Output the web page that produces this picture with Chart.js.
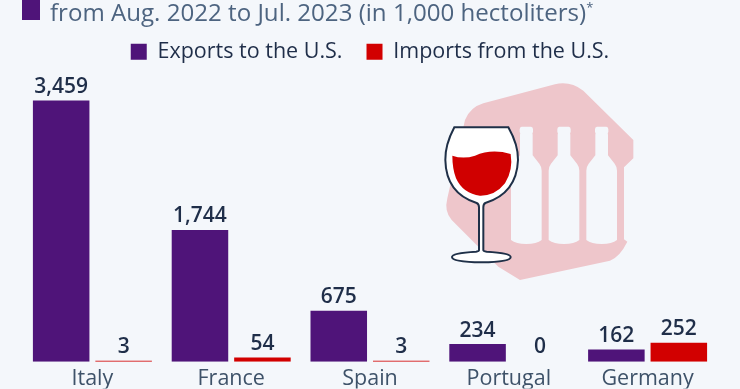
<!DOCTYPE html>
<html>
<head>
<meta charset="utf-8">
<script src="https://cdn.jsdelivr.net/npm/chart.js@4"></script>
<style>
    html, body { margin: 0; padding: 0; background: #f4f7fb; overflow: hidden; }
    #wrap { position: relative; width: 740px; height: 389px; overflow: hidden; }
    #chart { position: absolute; left: 0; top: 0; }
    #marker { position: absolute; left: 22px; top: 0; width: 18px; height: 20px; background: #4f1479; }
    #title { position: absolute; left: 50px; top: -5px; font: 24.1px "Open Sans", sans-serif; color: #4d6480; white-space: nowrap; }
    #title sup { font-size: 13px; line-height: 0; }
    #icon { position: absolute; left: 420px; top: 70px; }
</style>
</head>
<body>
<div id="wrap">
    <canvas id="chart" width="740" height="389"></canvas>
    <div id="marker"></div>
    <div id="title">from Aug. 2022 to Jul. 2023 (in 1,000 hectoliters)<sup>*</sup></div>
    <svg id="icon" width="240" height="210" viewBox="0 0 720 630">
        <path fill="#eec6cb" d="M190 100 L405 43 Q450 32 490 62 L640 210 L640 265 L612 292 L612 508 L622 515 Q600 560 570 572 L300 630 L235 590 L95 450 Q72 425 82 385 L135 150 Q150 112 190 100 Z"/>
        <g fill="#f4f7fb">
            <path id="bottle" d="M305 170 H333 Q339 170 339 178 V186 Q336 190 338 194 V256 L358 281 Q365 290 365 302 V510 Q350 522 319 522 Q288 522 273 510 V302 Q273 290 280 281 L300 256 V194 Q302 190 299 186 V178 Q299 170 305 170 Z"/>
            <use href="#bottle" x="113"/>
            <use href="#bottle" x="226"/>
        </g>
        <path fill="#fff" stroke="#1f3048" stroke-width="6" d="M103 172 H265 Q295 225 294 270 Q290 370 196 399 Q190 402 190 412 V541 Q190 544 200 545 Q272 549 272 561 Q272 576 185 577 Q96 576 96 561 Q96 549 168 545 Q177 544 177 541 V412 Q177 402 170 399 Q78 370 76 270 Q75 225 103 172 Z"/>
        <path fill="#d00000" d="M97 257 Q130 268 165 257 Q215 235 272 252 Q280 300 255 340 Q225 378 180 377 Q130 372 108 325 Q97 295 97 257 Z"/>
    </svg>
</div>
<script>
const countries = ['Italy', 'France', 'Spain', 'Portugal', 'Germany'];
const exportsToUs = [3459, 1744, 675, 234, 162];
const importsFromUs = [3, 54, 3, 0, 252];

const yMax = 3829;

// prints the number above each bar
const valueLabels = {
    id: 'valueLabels',
    afterDatasetsDraw(chart) {
        const ctx = chart.ctx;
        ctx.save();
        ctx.font = '600 21px "Open Sans"';
        ctx.fillStyle = '#1f2e49';
        ctx.textAlign = 'center';
        ctx.textBaseline = 'bottom';
        chart.data.datasets.forEach((ds, i) => {
            chart.getDatasetMeta(i).data.forEach((bar, j) => {
                ctx.fillText(ds.data[j].toLocaleString('en-US'), bar.x, bar.y - 3);
            });
        });
        ctx.restore();
    }
};

new Chart(document.getElementById('chart'), {
    type: 'bar',
    data: {
        labels: countries,
        datasets: [
            { label: 'Exports to the U.S.', data: exportsToUs, backgroundColor: '#4f1479' },
            {
                label: 'Imports from the U.S.',
                data: importsFromUs,
                // tiny values still show as a hairline, a zero shows nothing
                minBarLength: 1,
                backgroundColor: c => c.raw === 0 ? 'transparent' : '#d20000',
            },
        ]
    },
    options: {
        responsive: false,
        animation: false,
        categoryPercentage: 0.9,
        barPercentage: 0.905,
        layout: { padding: { left: 23, right: 23, top: 17, bottom: 0.5 } },
        plugins: {
            tooltip: { enabled: false },
            legend: {
                position: 'top',
                labels: {
                    boxWidth: 16,
                    boxHeight: 16,
                    padding: 24,
                    color: '#1f2e49',
                    font: { family: 'Open Sans', size: 21.5 },
                    generateLabels: chart => Chart.defaults.plugins.legend.labels.generateLabels(chart).map((item, i) => ({
                        ...item,
                        fillStyle: i === 0 ? '#4f1479' : '#d20000',
                    })),
                }
            }
        },
        scales: {
            x: {
                grid: { display: false },
                border: { display: false },
                ticks: { color: '#3e5269', padding: -3.5, font: { family: 'Open Sans', size: 21.5 } },
            },
            y: { display: false, min: 0, max: yMax },
        }
    },
    plugins: [valueLabels]
});
</script>
</body>
</html>
